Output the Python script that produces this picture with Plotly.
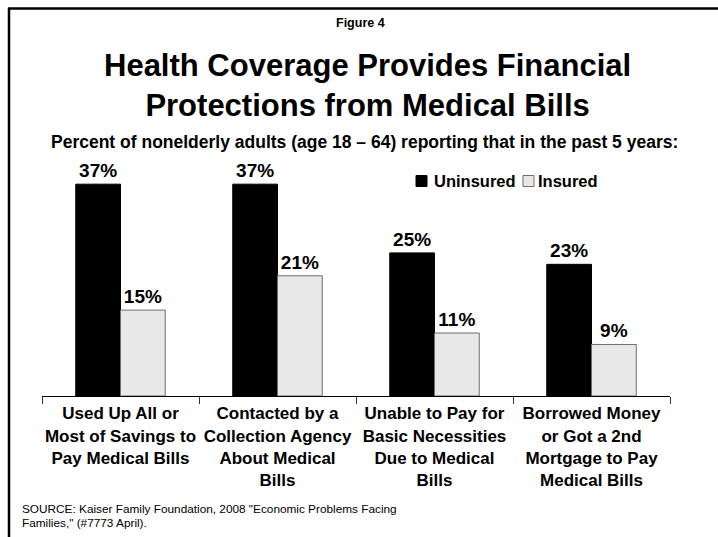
import plotly.graph_objects as go

# Survey results: share of nonelderly adults reporting each problem
categories = [
    "Used Up All or<br>Most of Savings to<br>Pay Medical Bills",
    "Contacted by a<br>Collection Agency<br>About Medical<br>Bills",
    "Unable to Pay for<br>Basic Necessities<br>Due to Medical<br>Bills",
    "Borrowed Money<br>or Got a 2nd<br>Mortgage to Pay<br>Medical Bills",
]
series_names = ["Uninsured", "Insured"]
uninsured = [37, 37, 25, 23]
insured = [15, 21, 11, 9]
source_lines = [
    'SOURCE: Kaiser Family Foundation, 2008 "Economic Problems Facing',
    'Families," (#7773 April).',
]

W, H = 718, 537
ML, MR, MT, MB = 42, 48, 167, 141
PLOT_W = W - ML - MR
PLOT_H = H - MT - MB
FONT = "Liberation Sans, Arial, sans-serif"
FILLS = ["#000000", "#e8e8e8"]
EDGES = ["#000000", "#6e6e6e"]


def px_x(x):
    return (x - ML) / PLOT_W


def px_y(y):
    return (H - MB - y) / PLOT_H


fig = go.Figure()
for name, vals, fill, edge in zip(series_names, [uninsured, insured], FILLS, EDGES):
    fig.add_trace(go.Bar(
        name=name, x=categories, y=vals,
        marker=dict(color=fill, line=dict(color=edge, width=1)),
        text=[f"{v}%" for v in vals], textposition="outside",
        textfont=dict(family=FONT, size=19, color="#000000", weight="bold"),
        cliponaxis=False, showlegend=False,
    ))

annotations = [
    dict(text="Figure 4", x=px_x(360), y=px_y(23),
         font=dict(size=12.5, weight="bold")),
    dict(text="Health Coverage Provides Financial<br>Protections from Medical Bills",
         x=px_x(367), y=px_y(85), font=dict(size=31, weight="bold")),
    dict(text="Percent of nonelderly adults (age 18 \u2013 64) reporting that in the past 5 years:",
         x=px_x(364), y=px_y(142), font=dict(size=17.5, weight="bold")),
]
for a in annotations:
    a.update(xref="paper", yref="paper", showarrow=False,
             xanchor="center", yanchor="middle")
    a["font"].update(family=FONT, color="#000000")

# Source note, two tightly spaced lines
for line, ly in zip(source_lines, [509, 523]):
    annotations.append(dict(
        text=line, x=px_x(20), y=px_y(ly), xref="paper", yref="paper",
        showarrow=False, xanchor="left", yanchor="middle", align="left",
        font=dict(family=FONT, size=11.8, color="#000000"),
    ))

# Slide frame: top and left rules
shapes = [
    dict(type="line", xref="paper", yref="paper",
         x0=px_x(8), x1=px_x(720), y0=px_y(8.5), y1=px_y(8.5),
         line=dict(color="#000000", width=2.5)),
    dict(type="line", xref="paper", yref="paper",
         x0=px_x(9), x1=px_x(9), y0=px_y(8), y1=px_y(540),
         line=dict(color="#000000", width=2.5)),
]

# Compact legend: swatch followed closely by its label
legend_swatch_x = [416, 523]
legend_text_x = [432, 536]
legend_y = 181
for name, fill, edge, sx, tx in zip(series_names, FILLS, EDGES, legend_swatch_x, legend_text_x):
    shapes.append(dict(
        type="rect", xref="paper", yref="paper",
        x0=px_x(sx), x1=px_x(sx + 11), y0=px_y(legend_y - 5.5), y1=px_y(legend_y + 5.5),
        fillcolor=fill, line=dict(color=edge, width=1),
    ))
    annotations.append(dict(
        text=name, x=px_x(tx), y=px_y(legend_y), xref="paper", yref="paper",
        showarrow=False, xanchor="left", yanchor="middle",
        font=dict(family=FONT, size=16.5, weight="bold", color="#000000"),
    ))

fig.update_layout(
    width=W, height=H,
    margin=dict(l=ML, r=MR, t=MT, b=MB, pad=0, autoexpand=False),
    paper_bgcolor="#ffffff", plot_bgcolor="#ffffff",
    barmode="group", bargap=0.43, bargroupgap=0,
    font=dict(family=FONT, color="#000000"),
    showlegend=False,
    xaxis=dict(
        showline=True, linecolor="#000000", linewidth=1,
        ticks="outside", tickson="boundaries", ticklen=7, tickcolor="#333333",
        tickangle=0, automargin=False, ticklabelstandoff=2,
        tickfont=dict(family=FONT, size=17, weight="bold", color="#000000"),
        showgrid=False, fixedrange=True,
    ),
    yaxis=dict(range=[0, 40], visible=False, showgrid=False, fixedrange=True),
    annotations=annotations,
    shapes=shapes,
)

fig.write_html("out.html")
